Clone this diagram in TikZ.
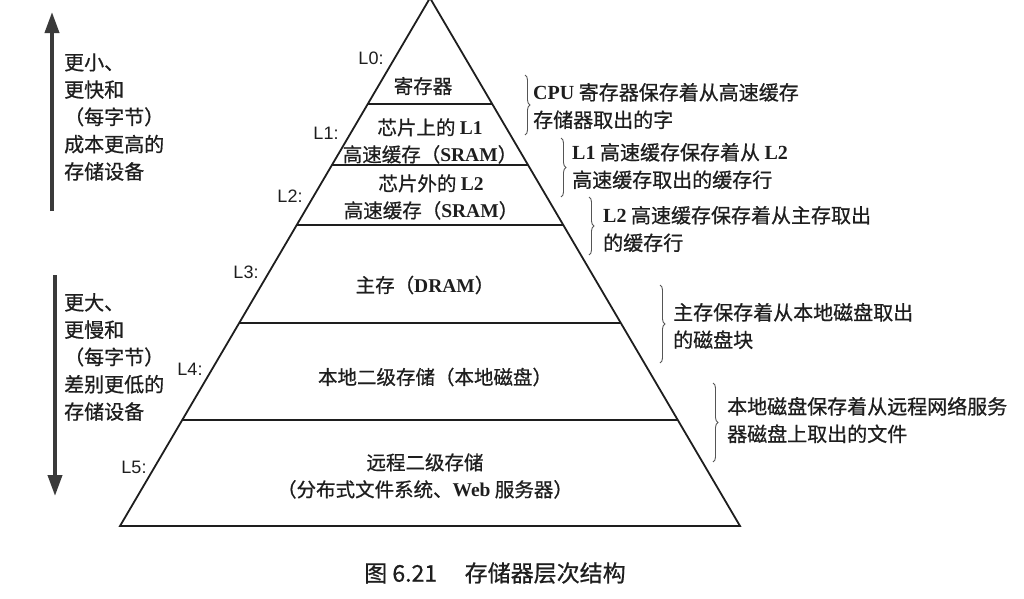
\documentclass[tikz,border=0pt]{standalone}
\usepackage{fontspec}
\usepackage{tikz}
\usepackage{xcolor}
\usetikzlibrary{arrows.meta, positioning, calc, decorations.pathreplacing}
\setmainfont{Noto Sans CJK SC}[FakeBold=0.7]
\newfontfamily\latrm{Liberation Serif}
\newfontfamily\latsf{Liberation Sans}
\newcommand{\latw}[1]{{\latrm\bfseries #1}}
\definecolor{ink}{HTML}{1E1E1E}
\definecolor{braceg}{HTML}{555555}
\definecolor{arrowg}{HTML}{3A3A3A}

\begin{document}
\begin{tikzpicture}[x=1pt, y=-1pt,
            lvl/.style={draw=ink, line width=1.8pt, line join=miter},
            tier/.style={font=\fontsize{19.5}{27}\selectfont, text=ink, align=center, inner sep=0pt},
            lbl/.style={font=\latsf\fontsize{18}{20}\selectfont, text=ink, inner sep=0pt},
            desc/.style={font=\fontsize{20}{27.5}\selectfont, text=ink, align=left, anchor=west, inner sep=0pt},
            side/.style={font=\fontsize{20}{27.3}\selectfont, text=ink, align=left, anchor=west, inner sep=0pt},
            brc/.style={draw=braceg, line width=0.9pt, decorate, decoration={brace, amplitude=5pt}},
            bigarrow/.style={draw=arrowg, line width=3.8pt, -{Triangle[length=21pt, width=14pt]}}]
            \useasboundingbox (0,0) rectangle (1024,598);
            % pyramid
            \coordinate (apex) at (430,-2);
            \coordinate (bl) at (120,526);
            \coordinate (br) at (740,526);
            \draw[lvl] (apex) -- (bl) -- (br) -- cycle;
            \coordinate (s1l) at ($(apex)!0.2008!(bl)$);
            \coordinate (s1r) at ($(apex)!0.2008!(br)$);
            \coordinate (s2l) at ($(apex)!0.3163!(bl)$);
            \coordinate (s2r) at ($(apex)!0.3163!(br)$);
            \coordinate (s3l) at ($(apex)!0.4299!(bl)$);
            \coordinate (s3r) at ($(apex)!0.4299!(br)$);
            \coordinate (s4l) at ($(apex)!0.6155!(bl)$);
            \coordinate (s4r) at ($(apex)!0.6155!(br)$);
            \coordinate (s5l) at ($(apex)!0.7992!(bl)$);
            \coordinate (s5r) at ($(apex)!0.7992!(br)$);
            \draw[lvl] (s1l) -- (s1r);
            \draw[lvl] (s2l) -- (s2r);
            \draw[lvl] (s3l) -- (s3r);
            \draw[lvl] (s4l) -- (s4r);
            \draw[lvl] (s5l) -- (s5r);
            % tiers
            \node[tier] (t0) at (423,86) {寄存器};
            \node[tier] (t1) at (430,141) {芯片上的 \latw{L1}\\高速缓存（\latw{SRAM}）};
            \node[tier] (t2) at (431,197) {芯片外的 \latw{L2}\\高速缓存（\latw{SRAM}）};
            \node[tier] (t3) at (425,285) {主存（\latw{DRAM}）};
            \node[tier] (t4) at (435,377) {本地二级存储（本地磁盘）};
            \node[tier] (t5) at (425,476) {远程二级存储\\（分布式文件系统、\latw{Web} 服务器）};
            % level labels
            \node[lbl] (l0) at (371,58) {L0:};
            \node[lbl] (l1) at (326,133) {L1:};
            \node[lbl] (l2) at (290,196) {L2:};
            \node[lbl] (l3) at (246,272) {L3:};
            \node[lbl] (l4) at (190,369) {L4:};
            \node[lbl] (l5) at (134,467) {L5:};
            % braces and notes
            \coordinate (b0t) at (525,75);
            \coordinate (b0b) at (525,135);
            \coordinate (b1t) at (561,138);
            \coordinate (b1b) at (561,197);
            \coordinate (b2t) at (589,197);
            \coordinate (b2b) at (589,255);
            \coordinate (b3t) at (660,285);
            \coordinate (b3b) at (660,363);
            \coordinate (b4t) at (713,383);
            \coordinate (b4b) at (713,462);
            \draw[brc] (b0t) -- (b0b);
            \draw[brc] (b1t) -- (b1b);
            \draw[brc] (b2t) -- (b2b);
            \draw[brc] (b3t) -- (b3b);
            \draw[brc] (b4t) -- (b4b);
            \node[desc] (d0) at (533,106) {\latw{CPU} 寄存器保存着从高速缓存\\存储器取出的字};
            \node[desc] (d1) at (572,166) {\latw{L1} 高速缓存保存着从 \latw{L2}\\高速缓存取出的缓存行};
            \node[desc] (d2) at (603,229) {\latw{L2} 高速缓存保存着从主存取出\\的缓存行};
            \node[desc] (d3) at (673,326) {主存保存着从本地磁盘取出\\的磁盘块};
            \node[desc] (d4) at (727,420) {本地磁盘保存着从远程网络服务\\器磁盘上取出的文件};
            % side arrows
            \coordinate (ua0) at (52,211);
            \coordinate (ua1) at (52,12);
            \coordinate (da0) at (55,275);
            \coordinate (da1) at (55,496);
            \draw[bigarrow] (ua0) -- (ua1);
            \draw[bigarrow] (da0) -- (da1);
            \node[side] (up) at (64,117) {更小、\\更快和\\（每字节）\\成本更高的\\存储设备};
            \node[side] (dn) at (64,357) {更大、\\更慢和\\（每字节）\\差别更低的\\存储设备};
            % caption
            \node[font=\fontsize{23}{26}\selectfont, text=ink, inner sep=0pt] (cap) at (495,573) {图 6.21\hspace{1.2em}存储器层次结构};
        \end{tikzpicture}
\end{document}
